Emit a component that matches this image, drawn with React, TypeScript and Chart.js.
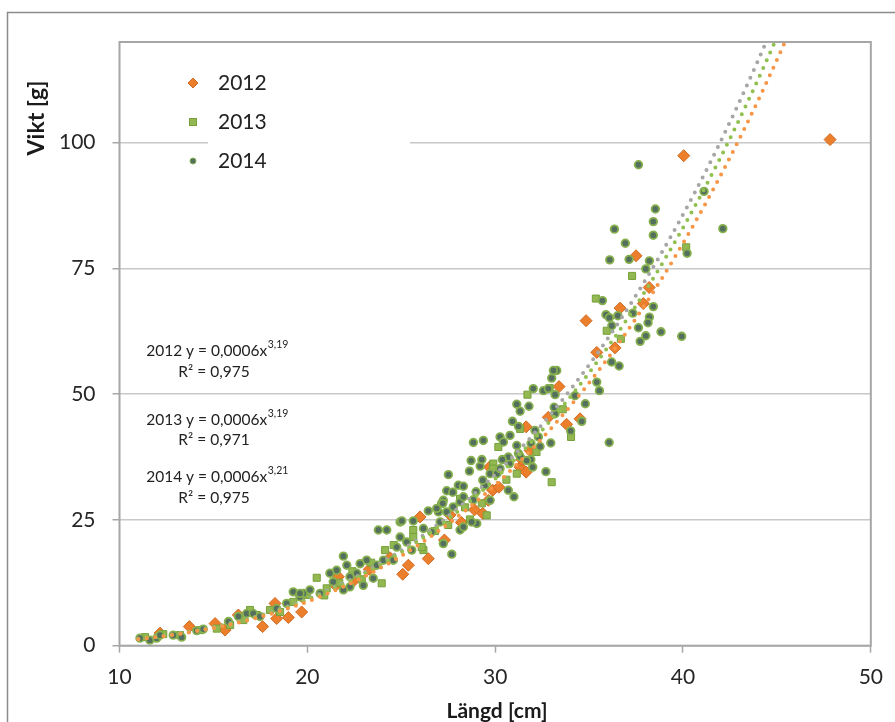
import React, { useEffect, useRef } from "react";
import { Chart, registerables } from "chart.js";

Chart.register(...registerables);

type P = [number, number];

const X_TICKS = [10, 20, 30, 40, 50];
const Y_TICKS = [0, 25, 50, 75, 100];
const SERIES_NAMES = ["2012", "2013", "2014"];

const DATA_2012: P[] = [
  [12.16, 2.5], [13.72, 3.8], [15.09, 4.4], [15.62, 3.1], [16.33, 6.1], [17.62, 3.8],
  [18.28, 8.4], [18.37, 5.4], [18.99, 5.6], [19.7, 6.7], [19.7, 9.8], [21.5, 12.0],
  [21.65, 13.7], [22.5, 13.0], [23.3, 15.2], [24.4, 17.5], [25.08, 14.2], [25.38, 16.0],
  [26.44, 17.3], [26.0, 25.6], [27.3, 21.0], [28.2, 24.5], [27.6, 26.0], [28.9, 27.0],
  [29.34, 26.3], [29.64, 28.9], [29.87, 30.9], [30.2, 31.5], [29.7, 35.5], [31.33, 35.5],
  [31.42, 37.0], [31.65, 34.5], [31.86, 38.8], [31.65, 43.5], [32.83, 45.4], [33.8, 44.0],
  [34.52, 45.1], [33.4, 51.5], [35.41, 58.3], [34.84, 64.6], [36.38, 59.2], [36.65, 67.1],
  [37.89, 68.0], [38.2, 71.2], [37.5, 77.5], [40.04, 97.4], [47.83, 100.6],
];

const DATA_2013: P[] = [
  [11.36, 1.7], [12.33, 2.3], [13.22, 2.1], [14.29, 3.1], [15.18, 3.4], [15.89, 4.1],
  [16.59, 5.1], [16.95, 7.1], [17.3, 6.1], [18.01, 7.1], [18.55, 6.7], [19.25, 8.7],
  [19.97, 10.1], [20.5, 13.5], [20.9, 10.0], [21.03, 11.4], [21.7, 12.5], [22.4, 14.8],
  [22.9, 13.2], [23.4, 16.5], [23.96, 12.4], [24.14, 19.0], [24.6, 20.0], [25.64, 23.0],
  [25.64, 21.6], [26.18, 19.0], [26.09, 19.6], [26.8, 22.8], [27.5, 24.0], [28.13, 29.2],
  [28.4, 27.5], [28.66, 25.1], [29.55, 25.9], [29.29, 28.3], [29.9, 36.2], [29.87, 35.2],
  [30.17, 39.5], [30.6, 33.0], [31.15, 34.2], [31.33, 43.1], [32.2, 38.5], [31.72, 49.9],
  [32.9, 51.2], [33.01, 32.5], [33.6, 47.0], [34.04, 41.5], [35.36, 69.0], [35.94, 62.6],
  [36.69, 61.0], [37.29, 73.5], [40.17, 79.2],
];

const DATA_2014: P[] = [
  [11.09, 1.5], [11.62, 1.1], [11.98, 1.5], [12.16, 2.1], [12.86, 2.1], [13.31, 1.7],
  [14.11, 3.0], [14.46, 3.3], [15.8, 4.8], [16.33, 5.8], [16.77, 6.4], [17.12, 6.4],
  [17.48, 5.8], [18.37, 7.4], [18.9, 8.4], [19.61, 9.7], [19.79, 10.4], [19.25, 10.7],
  [19.61, 10.4], [20.14, 11.1], [20.68, 10.4], [21.38, 12.7], [22.27, 11.7], [22.98, 12.0],
  [21.92, 11.1], [22.27, 13.7], [22.63, 14.4], [23.51, 13.4], [21.56, 15.0], [21.2, 14.4],
  [21.92, 17.8], [22.1, 16.0], [23.16, 17.0], [22.81, 16.3], [23.7, 16.0], [24.05, 17.0],
  [24.58, 17.0], [24.76, 19.6], [25.56, 19.0], [24.94, 21.6], [25.29, 20.6], [23.78, 23.0],
  [24.23, 23.0], [26.18, 23.3], [26.62, 22.6], [27.24, 20.3], [27.69, 18.2], [28.13, 23.0],
  [28.31, 23.6], [24.94, 24.6], [25.64, 24.8], [25.03, 24.8], [26.44, 26.8], [26.98, 26.6],
  [27.42, 26.6], [27.07, 24.6], [27.24, 28.9], [27.15, 28.3], [26.89, 27.3], [27.21, 28.3],
  [27.77, 27.6], [28.13, 28.6], [28.31, 29.6], [28.84, 29.0], [29.73, 28.9], [28.98, 30.6],
  [29.46, 31.9], [29.34, 32.9], [27.42, 30.8], [27.74, 30.5], [28.04, 31.9], [28.31, 31.7],
  [27.51, 34.0], [29.02, 24.3], [28.75, 24.6], [30.7, 30.9], [31.0, 29.6], [29.73, 34.2],
  [30.09, 34.2], [30.26, 35.2], [29.2, 35.7], [28.63, 34.7], [28.72, 36.8], [29.29, 37.0],
  [30.76, 36.2], [31.9, 37.0], [32.0, 35.5], [30.7, 37.5], [30.38, 37.0], [31.68, 36.8],
  [32.7, 34.6], [31.24, 38.2], [31.33, 37.6], [28.84, 40.4], [29.37, 40.8], [30.26, 41.5],
  [30.79, 41.8], [30.44, 40.5], [31.15, 39.8], [31.91, 40.2], [32.39, 39.6], [32.96, 40.3],
  [32.12, 42.8], [32.3, 41.5], [34.02, 42.7], [30.92, 44.6], [31.24, 43.6], [33.19, 46.1],
  [34.61, 44.6], [31.15, 48.0], [31.8, 47.6], [31.33, 46.6], [33.14, 47.4], [32.03, 51.1],
  [32.57, 50.7], [32.83, 51.1], [33.19, 49.9], [34.25, 49.7], [34.8, 48.1], [33.01, 53.2],
  [33.28, 54.7], [33.1, 54.7], [35.41, 52.4], [35.55, 50.7], [36.07, 40.4], [36.2, 56.4],
  [36.6, 55.6], [35.71, 68.6], [35.9, 65.8], [36.08, 65.2], [36.53, 65.6], [37.33, 66.1],
  [38.21, 65.3], [38.14, 64.2], [36.21, 63.6], [37.63, 63.2], [38.83, 62.4], [39.93, 61.5],
  [38.02, 61.6], [37.72, 60.5], [38.42, 67.4], [38.02, 74.9], [36.1, 76.7], [37.13, 76.8],
  [38.21, 76.5], [40.22, 78.0], [36.93, 80.0], [38.42, 81.6], [36.35, 82.8], [38.42, 84.3],
  [38.53, 86.8], [42.12, 82.9], [37.63, 95.6], [41.12, 90.3],
];

// Power-law trendlines y = a * x^b (coefficients as drawn)
const TREND_A = [0.00062, 0.000644, 0.000617];
const TREND_B = [3.19, 3.19, 3.21];
const TREND_X_RANGE = [11, 46.5];
const TREND_COLORS = ["#f79646", "#92c050", "#a6a6a6"];

const EQUATIONS = [
  { name: "2012", coef: "0,0006", exp: "3,19", r2: "0,975" },
  { name: "2013", coef: "0,0006", exp: "3,19", r2: "0,971" },
  { name: "2014", coef: "0,0006", exp: "3,21", r2: "0,975" },
];

const FONT = "Lato, 'Open Sans', sans-serif";

const CIRCLE_FILL = "#556f5e";
const CIRCLE_BORDER = "#86b04e";
const SQUARE_FILL = "#93b852";
const SQUARE_BORDER = "#76a03a";
const DIAMOND_FILL = "#ec7f2c";
const DIAMOND_BORDER = "#cf6a22";

function trend(i: number): P[] {
  const pts: P[] = [];
  for (let x = TREND_X_RANGE[0]; x <= TREND_X_RANGE[1] + 1e-9; x += 0.1) {
    pts.push([x, TREND_A[i] * Math.pow(x, TREND_B[i])]);
  }
  return pts;
}

const toXY = (arr: P[]) => arr.map(([x, y]) => ({ x, y }));

function drawDiamond(ctx: CanvasRenderingContext2D, x: number, y: number, r: number) {
  ctx.beginPath();
  ctx.moveTo(x, y - r);
  ctx.lineTo(x + r, y);
  ctx.lineTo(x, y + r);
  ctx.lineTo(x - r, y);
  ctx.closePath();
  ctx.fillStyle = DIAMOND_FILL;
  ctx.fill();
  ctx.strokeStyle = DIAMOND_BORDER;
  ctx.lineWidth = 1;
  ctx.stroke();
}

const decor = {
  id: "decor",
  beforeDatasetsDraw(chart: any) {
    const ctx: CanvasRenderingContext2D = chart.ctx;
    const y100 = chart.scales.y.getPixelForValue(100);
    ctx.save();
    ctx.fillStyle = "#ffffff";
    ctx.fillRect(208, y100 - 4, 202, 8);
    ctx.restore();
  },
  afterDraw(chart: any) {
    const ctx: CanvasRenderingContext2D = chart.ctx;
    const a = chart.chartArea;
    ctx.save();
    // plot border
    ctx.strokeStyle = "#a6a6a6";
    ctx.lineWidth = 2;
    ctx.strokeRect(a.left, a.top, a.right - a.left, a.bottom - a.top);
    // outer frame
    ctx.strokeStyle = "#8c8c8c";
    ctx.lineWidth = 1.5;
    ctx.beginPath();
    ctx.moveTo(7.5, 722);
    ctx.lineTo(7.5, 12.5);
    ctx.lineTo(895, 12.5);
    ctx.stroke();

    // axis titles
    ctx.fillStyle = "#1a1a1a";
    ctx.font = `bold 23px ${FONT}`;
    ctx.textAlign = "center";
    ctx.textBaseline = "middle";
    ctx.save();
    ctx.translate(37, 118);
    ctx.rotate(-Math.PI / 2);
    ctx.fillText("Vikt [g]", 0, 0);
    ctx.restore();
    ctx.font = `bold 21px ${FONT}`;
    ctx.fillText("Längd [cm]", 497, 711);

    // legend
    const ly = [83, 122, 161];
    drawDiamond(ctx, 193, ly[0], 5);
    ctx.fillStyle = SQUARE_FILL;
    ctx.fillRect(189.5, ly[1] - 3.5, 7, 7);
    ctx.strokeStyle = SQUARE_BORDER;
    ctx.lineWidth = 1;
    ctx.strokeRect(189.5, ly[1] - 3.5, 7, 7);
    ctx.beginPath();
    ctx.arc(193, ly[2], 3, 0, Math.PI * 2);
    ctx.fillStyle = CIRCLE_FILL;
    ctx.fill();
    ctx.strokeStyle = CIRCLE_BORDER;
    ctx.stroke();
    ctx.fillStyle = "#222222";
    ctx.font = `21px ${FONT}`;
    ctx.textAlign = "left";
    ctx.textBaseline = "middle";
    SERIES_NAMES.forEach((n, i) => ctx.fillText(n, 218, ly[i]));

    // equations
    const eqY = [351, 420, 477];
    const rY = [372, 440, 498];
    const cx = 217;
    EQUATIONS.forEach((e, i) => {
      ctx.fillStyle = "#222222";
      ctx.font = `15.5px ${FONT}`;
      const main = `${e.name} y = ${e.coef}x`;
      const wMain = ctx.measureText(main).width;
      ctx.font = `10.5px ${FONT}`;
      const wExp = ctx.measureText(e.exp).width;
      const start = cx - (wMain + wExp) / 2;
      ctx.textAlign = "left";
      ctx.textBaseline = "middle";
      ctx.font = `15.5px ${FONT}`;
      ctx.fillText(main, start, eqY[i]);
      ctx.font = `10.5px ${FONT}`;
      ctx.fillText(e.exp, start + wMain + 0.5, eqY[i] - 6);
      ctx.font = `15.5px ${FONT}`;
      ctx.textAlign = "center";
      ctx.fillText(`R² = ${e.r2}`, cx - 3, rY[i]);
    });
    ctx.restore();
  },
};

export default function App() {
  const ref = useRef<HTMLCanvasElement | null>(null);
  useEffect(() => {
    if (!ref.current) return;
    const trendSets = [0, 1, 2].map((i) => ({
      type: "line" as const,
      label: "trend " + SERIES_NAMES[i],
      data: toXY(trend(i)),
      showLine: true,
      borderColor: TREND_COLORS[i],
      borderWidth: 4,
      borderDash: [0, 8.5],
      borderCapStyle: "round" as const,
      pointRadius: 0,
      fill: false,
      tension: 0,
      order: 0,
    }));
    const chart = new Chart(ref.current, {
      type: "scatter",
      data: {
        datasets: [
          ...trendSets,
          {
            label: SERIES_NAMES[2],
            data: toXY(DATA_2014),
            pointStyle: "circle",
            pointRadius: 3.8,
            backgroundColor: CIRCLE_FILL,
            borderColor: CIRCLE_BORDER,
            borderWidth: 1.8,
            order: 1,
          },
          {
            label: SERIES_NAMES[1],
            data: toXY(DATA_2013),
            pointStyle: "rect",
            pointRadius: 5,
            backgroundColor: SQUARE_FILL,
            borderColor: SQUARE_BORDER,
            borderWidth: 1,
            order: 2,
          },
          {
            label: SERIES_NAMES[0],
            data: toXY(DATA_2012),
            pointStyle: "rectRot",
            pointRadius: 6,
            backgroundColor: DIAMOND_FILL,
            borderColor: DIAMOND_BORDER,
            borderWidth: 1,
            order: 3,
          },
        ],
      } as any,
      options: {
        responsive: false,
        animation: false,
        devicePixelRatio: 1,
        layout: { padding: { left: 0, top: 42, right: 24, bottom: 0 } },
        plugins: { legend: { display: false }, tooltip: { enabled: false } },
        scales: {
          x: {
            type: "linear",
            min: 10,
            max: 50,
            afterFit: (s: any) => {
              s.height = 76.3;
            },
            afterBuildTicks: (s: any) => {
              s.ticks = X_TICKS.map((v) => ({ value: v }));
            },
            ticks: {
              font: { family: FONT, size: 21 },
              color: "#262626",
              padding: 12,
              maxRotation: 0,
            },
            grid: {
              drawOnChartArea: false,
              drawTicks: true,
              tickLength: 7,
              tickColor: "#a6a6a6",
              tickWidth: 1.5,
            },
            border: { display: false },
          },
          y: {
            type: "linear",
            min: 0,
            max: 120,
            afterFit: (s: any) => {
              s.width = 119.5;
            },
            afterBuildTicks: (s: any) => {
              s.ticks = Y_TICKS.map((v) => ({ value: v }));
            },
            ticks: {
              font: { family: FONT, size: 21 },
              color: "#262626",
              padding: 17,
            },
            grid: {
              color: "#c8c8c8",
              lineWidth: 1.5,
              drawTicks: true,
              tickLength: 7,
              tickColor: "#a6a6a6",
              tickWidth: 1.5,
            },
            border: { display: false },
          },
        },
      },
      plugins: [decor],
    });
    return () => chart.destroy();
  }, []);
  return (
    <div style={{ position: "fixed", left: 0, top: 0, width: 895, height: 722, background: "#fff" }}>
      <canvas ref={ref} width={895} height={722} />
    </div>
  );
}
